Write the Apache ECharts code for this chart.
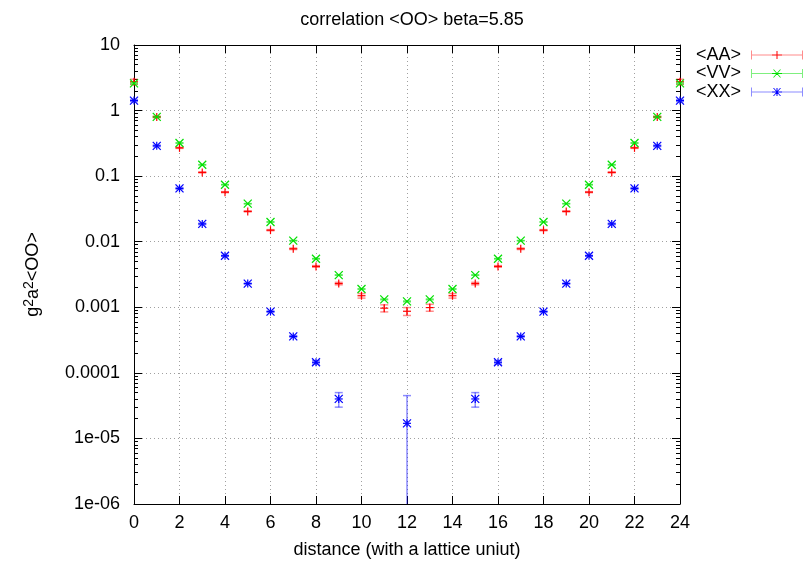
<!DOCTYPE html>
<html><head><meta charset="utf-8">
<script src="https://cdn.jsdelivr.net/npm/echarts@6/dist/echarts.min.js"></script>
<style>html,body{margin:0;padding:0;background:#fff}#c{width:806px;height:564px}</style>
</head><body><div id="c"></div>
<script>
// ---- data ----
const distances = [0,1,2,3,4,5,6,7,8,9,10,11,12,13,14,15,16,17,18,19,20,21,22,23,24];
const aaValues = [2.75,0.80,0.27,0.114,0.057,0.029,0.015,0.0078,0.0042,0.0023,0.0015,0.00097,0.00087,0.00099,0.0015,0.0023,0.0042,0.0078,0.015,0.029,0.057,0.114,0.27,0.80,2.75];
const aaErrors = [0.25,0.02,0.005,0.002,0.001,0.0005,0.0003,0.0002,0.00012,0.0001,0.00012,0.00012,0.00012,0.00012,0.00012,0.0001,0.00012,0.0002,0.0003,0.0005,0.001,0.002,0.005,0.02,0.25];
const vvValues = [2.6,0.80,0.32,0.149,0.074,0.038,0.020,0.0104,0.0055,0.0031,0.0019,0.00132,0.00123,0.00132,0.0019,0.0031,0.0055,0.0104,0.020,0.038,0.074,0.149,0.32,0.80,2.6];
const vvErrors = [0.05,0.01,0.003,0.001,0.0005,0.0002,0.0001,0.00005,0.00003,0.00002,0.00002,0.00002,0.00002,0.00002,0.00002,0.00002,0.00003,0.00005,0.0001,0.0002,0.0005,0.001,0.003,0.01,0.05];
const xxValues = [1.42,0.29,0.065,0.0187,0.0061,0.0023,0.00086,0.00036,0.000145,0.00004,null,null,0.000017,null,null,0.00004,0.000145,0.00036,0.00086,0.0023,0.0061,0.0187,0.065,0.29,1.42];
const xxErrors = [0.05,0.008,0.002,0.0005,0.0001,0.00004,0.00002,0.00001,0.000008,0.00001,null,null,0.000028,null,null,0.00001,0.000008,0.00001,0.00002,0.00004,0.0001,0.0005,0.002,0.008,0.05];
const seriesNames = ['<AA>','<VV>','<XX>'];
const yTickLabels = ['1e-06','1e-05','0.0001','0.001','0.01','0.1','1','10']; // exponents -6..1
const yMinorTicks = [];
for (let e = -6; e < 1; e++) { for (const m of [2,3,4,5,6,7,8,9]) yMinorTicks.push(m * Math.pow(10, e)); }

const FONT = '"Liberation Sans", Arial, sans-serif';
const FS = 18;
const colors = ['#ff0000', '#00e000', '#0000ff'];
const lightColors = ['rgba(255,0,0,0.45)', 'rgba(0,224,0,0.5)', 'rgba(0,0,255,0.45)'];
const shapes = ['plus', 'cross', 'star'];

function buildData(vals, errs) {
  const out = [];
  distances.forEach((d, i) => { if (vals[i] != null) out.push([d, vals[i], errs[i]]); });
  return out;
}

function markerChildren(shape, cx, cy, r, color) {
  const st = { stroke: color, lineWidth: 1.2 };
  const L = (x1, y1, x2, y2) => ({ type: 'line', shape: { x1, y1, x2, y2 }, style: st });
  const plus = [L(cx - r, cy, cx + r, cy), L(cx, cy - r, cx, cy + r)];
  const cross = [L(cx - r, cy - r, cx + r, cy + r), L(cx - r, cy + r, cx + r, cy - r)];
  if (shape === 'plus') return plus;
  if (shape === 'cross') return cross;
  return plus.concat(cross);
}

function makeRender(shape, color, light) {
  return function (params, api) {
    const x = api.value(0), y = api.value(1), e = api.value(2);
    const p = api.coord([x, y]);
    const cs = params.coordSys;
    const children = [];
    if (e > 0) {
      const bottom = cs.y + cs.height;
      const hi = api.coord([x, y + e])[1];
      const lo = (y - e > 0) ? Math.min(api.coord([x, y - e])[1], bottom) : bottom;
      const es = { stroke: light, lineWidth: 1.5 };
      children.push({ type: 'line', shape: { x1: p[0], y1: hi, x2: p[0], y2: lo }, style: es });
      children.push({ type: 'line', shape: { x1: p[0] - 4, y1: hi, x2: p[0] + 4, y2: hi }, style: es });
      if (lo < bottom) children.push({ type: 'line', shape: { x1: p[0] - 4, y1: lo, x2: p[0] + 4, y2: lo }, style: es });
    }
    return { type: 'group', children: children.concat(markerChildren(shape, p[0], p[1], 4, color)) };
  };
}

const iconLine = 'M0,4H52V5H0Z M0,0H1V9H0Z M51,0H52V9H51Z';
const iconPlus = 'M25.5,0.5H26.5V8.5H25.5Z M22,4H30V5H22Z';
const iconCross = 'M22,0.5L23,0.5L30,8.5L29,8.5Z M29,0.5L30,0.5L23,8.5L22,8.5Z';
const icons = ['path://' + iconLine + ' ' + iconPlus, 'path://' + iconLine + ' ' + iconCross, 'path://' + iconLine + ' ' + iconPlus + ' ' + iconCross];
function legendFill(i) {
  return new echarts.graphic.LinearGradient(0, 0, 1, 0, [
    { offset: 0, color: lightColors[i] }, { offset: 0.41, color: lightColors[i] },
    { offset: 0.41, color: colors[i] }, { offset: 0.59, color: colors[i] },
    { offset: 0.59, color: lightColors[i] }, { offset: 1, color: lightColors[i] }
  ]);
}

const allData = [buildData(aaValues, aaErrors), buildData(vvValues, vvErrors), buildData(xxValues, xxErrors)];

const baseY = { type: 'log', logBase: 10, min: 1e-6, max: 10, interval: 1 };
const axisLineStyle = { color: '#000', width: 1 };

const option = {
  animation: false,
  backgroundColor: '#fff',
  title: { text: 'correlation <OO> beta=5.85', left: 407, textAlign: 'center', top: 6,
    textStyle: { fontFamily: FONT, fontSize: FS, fontWeight: 'normal', color: '#000' } },
  legend: {
    orient: 'vertical', right: 3, top: 46, align: 'right', itemWidth: 52, itemHeight: 9, itemGap: 0.5,
    padding: 0, selectedMode: false,
    formatter: n => n + ' ',
    textStyle: { fontFamily: FONT, fontSize: FS, color: '#000', lineHeight: 18 },
    data: seriesNames.map((n, i) => ({ name: n, icon: icons[i], itemStyle: { color: legendFill(i) } }))
  },
  grid: { left: 134, right: 126, top: 45, bottom: 57 },
  xAxis: [
    { type: 'value', min: 0, max: 24, interval: 2, position: 'bottom',
      name: 'distance (with a lattice uniut)', nameLocation: 'middle', nameGap: 37,
      nameTextStyle: { fontFamily: FONT, fontSize: FS, color: '#000' },
      axisLine: { show: true, lineStyle: axisLineStyle },
      axisTick: { show: true, inside: true, length: 8, lineStyle: axisLineStyle },
      axisLabel: { fontFamily: FONT, fontSize: FS, color: '#000', margin: 10 },
      splitLine: { show: true, lineStyle: { color: '#a0a0a0', type: [1, 3], width: 1 } } },
    { type: 'value', min: 0, max: 24, interval: 2, position: 'top',
      axisLine: { show: true, lineStyle: axisLineStyle },
      axisTick: { show: true, inside: true, length: 8, lineStyle: axisLineStyle },
      axisLabel: { show: false }, splitLine: { show: false } }
  ],
  yAxis: [
    Object.assign({}, baseY, { position: 'left',
      name: 'g{sup|2}a{sup|2}<OO>', nameLocation: 'middle', nameGap: 90,
      nameTextStyle: { fontFamily: FONT, fontSize: FS, color: '#000', lineHeight: 22,
        rich: { sup: { fontFamily: FONT, fontSize: 14, color: '#000', verticalAlign: 'top', lineHeight: 13 } } },
      axisLine: { show: true, lineStyle: axisLineStyle },
      axisTick: { show: true, inside: true, length: 8, lineStyle: axisLineStyle },
      axisLabel: { fontFamily: FONT, fontSize: FS, color: '#000', margin: 14,
        formatter: v => yTickLabels[Math.round(Math.log10(v)) + 6] },
      splitLine: { show: true, lineStyle: { color: '#a0a0a0', type: [1, 3], width: 1 } } }),
    Object.assign({}, baseY, { position: 'left',
      axisLine: { show: false },
      axisTick: { show: true, inside: true, length: 4, lineStyle: axisLineStyle, customValues: yMinorTicks },
      axisLabel: { show: false }, splitLine: { show: false } }),
    Object.assign({}, baseY, { position: 'right',
      axisLine: { show: true, lineStyle: axisLineStyle },
      axisTick: { show: true, inside: true, length: 8, lineStyle: axisLineStyle },
      axisLabel: { show: false }, splitLine: { show: false } }),
    Object.assign({}, baseY, { position: 'right',
      axisLine: { show: false },
      axisTick: { show: true, inside: true, length: 4, lineStyle: axisLineStyle, customValues: yMinorTicks },
      axisLabel: { show: false }, splitLine: { show: false } })
  ],
  series: seriesNames.map((n, i) => ({
    name: n, type: 'custom', xAxisIndex: 0, yAxisIndex: 0, clip: false,
    itemStyle: { color: colors[i] },
    encode: { x: 0, y: 1 },
    renderItem: makeRender(shapes[i], colors[i], lightColors[i]),
    data: allData[i]
  }))
};

const chart = echarts.init(document.getElementById('c'), null, { renderer: 'canvas' });
chart.setOption(option);
</script>
</body></html>
